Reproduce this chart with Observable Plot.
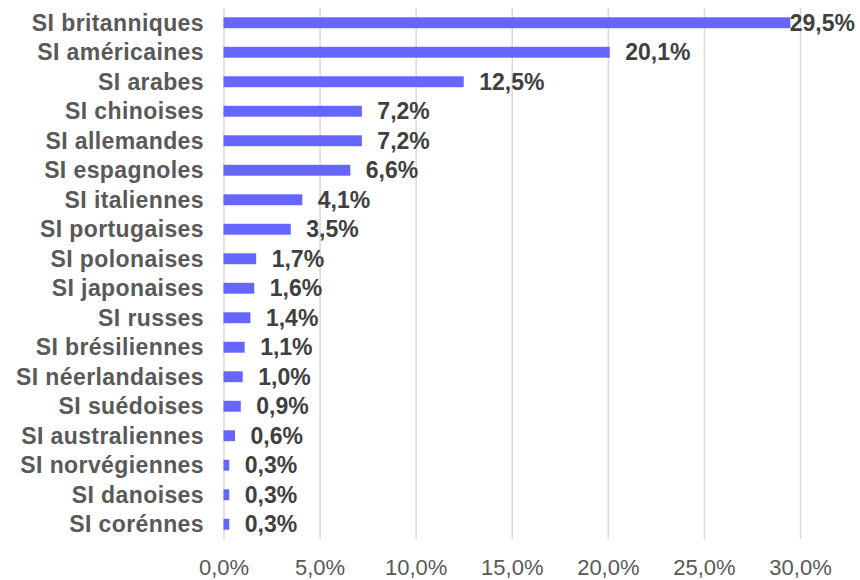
<!DOCTYPE html>
<html><head><meta charset="utf-8">
<script src="https://cdn.jsdelivr.net/npm/d3@7"></script>
<script src="https://cdn.jsdelivr.net/npm/@observablehq/plot@0.6"></script>
<style>body{margin:0;background:#fff}</style>
</head><body><div id="chart"></div>
<script>
const categories = ["SI britanniques","SI américaines","SI arabes","SI chinoises","SI allemandes","SI espagnoles","SI italiennes","SI portugaises","SI polonaises","SI japonaises","SI russes","SI brésiliennes","SI néerlandaises","SI suédoises","SI australiennes","SI norvégiennes","SI danoises","SI corénnes"];
const values = [29.5,20.1,12.5,7.2,7.2,6.6,4.1,3.5,1.7,1.6,1.4,1.1,1.0,0.9,0.6,0.3,0.3,0.3];
const xTicks = [0,5,10,15,20,25,30];
const data = categories.map((c,i)=>({cat:c, value: values[i]}));
const fmt = d => d.toFixed(1).replace(".", ",") + "%";
const chart = Plot.plot({
  width: 860, height: 580,
  marginLeft: 223.5, marginRight: 60, marginTop: 8, marginBottom: 41,
  style: {fontFamily: "'Liberation Sans', Arial, sans-serif", background: "#fff"},
  x: {domain: [0, 30], label: null},
  y: {domain: categories, paddingInner: 0.63, paddingOuter: 0.315, round: false, label: null},
  marks: [
    Plot.gridX(xTicks, {stroke: "#d9d9d9", strokeOpacity: 1, strokeWidth: 1.5}),
    Plot.barX(data, {x: "value", y: "cat", fill: "#6666ff"}),
    Plot.text(data.filter(d => d.value < 25), {x: "value", y: "cat", text: d => fmt(d.value), dx: 15, textAnchor: "start", fill: "#404040", fontWeight: "bold", fontSize: 23}),
    Plot.text(data.filter(d => d.value >= 25), {x: "value", y: "cat", text: d => fmt(d.value), dx: 64, textAnchor: "end", fill: "#404040", fontWeight: "bold", fontSize: 23}),
    Plot.axisX(xTicks, {tickSize: 0, tickPadding: 20, fontSize: 22, fill: "#595959", tickFormat: fmt, label: null}),
    Plot.axisY({tickSize: 0, tickPadding: 20, fontSize: 23, fontWeight: "bold", fill: "#595959", label: null})
  ]
});
chart.querySelectorAll("[aria-label='y-axis tick label'] text").forEach(t => t.setAttribute("letter-spacing", "0.4"));
document.getElementById("chart").appendChild(chart);
</script>
</body></html>
